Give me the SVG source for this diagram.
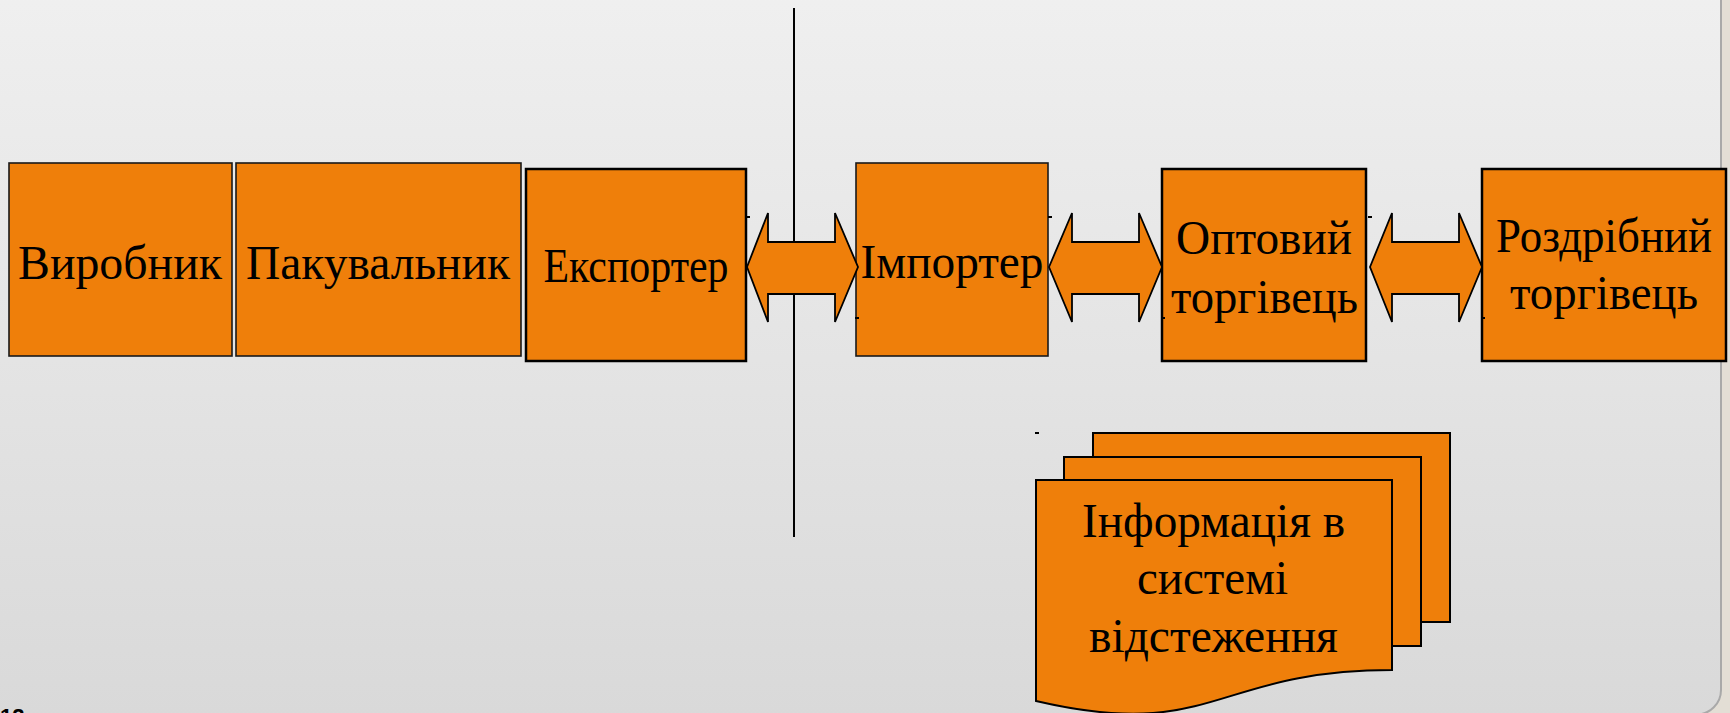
<svg xmlns="http://www.w3.org/2000/svg" width="1730" height="713" viewBox="0 0 1730 713">
  <defs>
    <linearGradient id="slideBg" x1="0" y1="0" x2="0" y2="1">
      <stop offset="0" stop-color="#f0f0f0"/>
      <stop offset="1" stop-color="#d9d9d9"/>
    </linearGradient>
    <style>
      .box { fill: #ef7f0a; stroke: #000; stroke-width: 2.5; }
      .box.thin { stroke: #1a1a1a; stroke-width: 1.6; }
      .arrow { fill: #ef7f0a; stroke: #000; stroke-width: 1.8; stroke-linejoin: miter; }
      .doc { fill: #ef7f0a; stroke: #000; stroke-width: 2; }
      .stub { stroke: #000; stroke-width: 2; }
      .label { font-family: "Liberation Serif", "Times New Roman", serif; font-size: 48px; fill: #000; text-anchor: middle; }
    </style>
  </defs>

  <!-- page backdrop and slide panel -->
  <rect x="0" y="0" width="1730" height="713" fill="#e3ded5"/>
  <rect x="-30" y="-30" width="1751" height="744.5" rx="24.5" ry="24.5" fill="url(#slideBg)" stroke="#a9a9a9" stroke-width="2"/>

  <!-- slide number -->
  <text x="0" y="724" font-family="Liberation Sans, Arial, sans-serif" font-size="22" font-weight="bold" fill="#000">12</text>

  <!-- border separator -->
  <line x1="794" y1="8" x2="794" y2="537" stroke="#000" stroke-width="2"/>

  <g id="node-vyrobnyk">
    <rect class="box thin" x="9" y="163" width="223" height="193"/>
    <text class="label" x="120" y="279" textLength="204" lengthAdjust="spacingAndGlyphs">Виробник</text>
  </g>

  <g id="node-pakuvalnyk">
    <rect class="box thin" x="236" y="163" width="285" height="193"/>
    <text class="label" x="378" y="279" textLength="264" lengthAdjust="spacingAndGlyphs">Пакувальник</text>
  </g>

  <g id="node-eksporter">
    <rect class="box" x="526" y="169" width="220" height="192"/>
    <text class="label" x="636" y="282" font-size="43" textLength="185" lengthAdjust="spacingAndGlyphs">Експортер</text>
  </g>

  <g id="node-importer">
    <rect class="box thin" x="856" y="163" width="192" height="193"/>
    <text class="label" x="952" y="278" textLength="183" lengthAdjust="spacingAndGlyphs">Імпортер</text>
  </g>

  <g id="node-optovyi">
    <rect class="box" x="1162" y="169" width="204" height="192"/>
    <text class="label" x="1264" y="254" textLength="176" lengthAdjust="spacingAndGlyphs">Оптовий</text>
    <text class="label" x="1264.5" y="313" textLength="187" lengthAdjust="spacingAndGlyphs">торгівець</text>
  </g>

  <g id="node-rozdribnyi">
    <rect class="box" x="1482" y="169" width="244" height="192"/>
    <text class="label" x="1604" y="252" textLength="216" lengthAdjust="spacingAndGlyphs">Роздрібний</text>
    <text class="label" x="1604" y="309" textLength="188" lengthAdjust="spacingAndGlyphs">торгівець</text>
  </g>

  <g id="node-info">
    <rect class="doc" x="1093" y="433" width="357" height="189"/>
    <rect class="doc" x="1064" y="457" width="357" height="189"/>
    <path class="doc" d="M1036,480 L1392,480 L1392,670 C1214,670 1214,742.5 1036,701 Z"/>
    <text class="label" x="1213.5" y="537" textLength="263" lengthAdjust="spacingAndGlyphs">Інформація в</text>
    <text class="label" x="1212.5" y="594" textLength="151" lengthAdjust="spacingAndGlyphs">системі</text>
    <text class="label" x="1213.5" y="652" textLength="249" lengthAdjust="spacingAndGlyphs">відстеження</text>
  </g>

  <g id="connectors">
    <polygon class="arrow" points="747,267 768,213 768,242 835,242 835,213 858,267 835,322 835,294 768,294 768,322"/>
    <polygon class="arrow" points="1049,267 1072,213 1072,242 1139,242 1139,213 1162,267 1139,322 1139,294 1072,294 1072,322"/>
    <polygon class="arrow" points="1370,267 1392,213 1392,242 1459,242 1459,213 1482,267 1459,322 1459,294 1392,294 1392,322"/>
    <!-- connection stubs -->
    <line class="stub" x1="746" y1="217" x2="750" y2="217"/>
    <line class="stub" x1="1048" y1="217" x2="1052" y2="217"/>
    <line class="stub" x1="1368" y1="217" x2="1372" y2="217"/>
    <line class="stub" x1="855" y1="318" x2="859" y2="318"/>
    <line class="stub" x1="1161" y1="318" x2="1165" y2="318"/>
    <line class="stub" x1="1481" y1="318" x2="1485" y2="318"/>
    <line class="stub" x1="1035" y1="433" x2="1039" y2="433"/>
  </g>
</svg>
